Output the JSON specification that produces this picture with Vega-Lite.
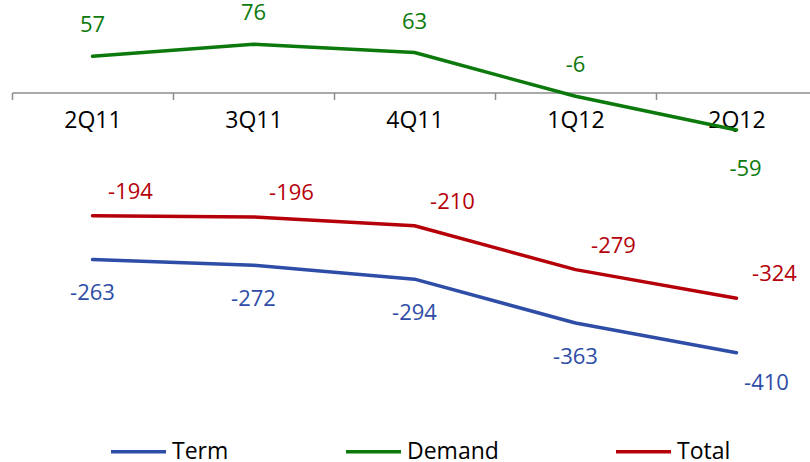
{
  "$schema": "https://vega.github.io/schema/vega-lite/v6.json",
  "width": 798,
  "height": 375,
  "autosize": {"type": "none"},
  "padding": {"left": 12, "top": 0, "right": 0, "bottom": 87},
  "background": "white",
  "config": {"view": {"stroke": null}, "font": "Open Sans"},
  "data": {
    "values": [
      {"quarter": "2Q11", "series": "Term", "value": -263},
      {"quarter": "3Q11", "series": "Term", "value": -272},
      {"quarter": "4Q11", "series": "Term", "value": -294},
      {"quarter": "1Q12", "series": "Term", "value": -363},
      {"quarter": "2Q12", "series": "Term", "value": -410},
      {"quarter": "2Q11", "series": "Demand", "value": 57},
      {"quarter": "3Q11", "series": "Demand", "value": 76},
      {"quarter": "4Q11", "series": "Demand", "value": 63},
      {"quarter": "1Q12", "series": "Demand", "value": -6},
      {"quarter": "2Q12", "series": "Demand", "value": -59},
      {"quarter": "2Q11", "series": "Total", "value": -194},
      {"quarter": "3Q11", "series": "Total", "value": -196},
      {"quarter": "4Q11", "series": "Total", "value": -210},
      {"quarter": "1Q12", "series": "Total", "value": -279},
      {"quarter": "2Q12", "series": "Total", "value": -324}
    ]
  },
  "transform": [{"calculate": "'' + datum.value", "as": "label"}],
  "encoding": {
    "x": {
      "field": "quarter",
      "type": "nominal",
      "sort": null,
      "bandPosition": 0.5,
      "scale": {"type": "band", "paddingInner": 0, "paddingOuter": 0, "range": [0, 805]},
      "axis": {
        "title": null,
        "orient": "bottom",
        "offset": -282.5,
        "labelAngle": 0,
        "labelFont": "Open Sans",
        "labelFontSize": 23,
        "labelColor": "#000000",
        "labelPadding": 10,
        "domainColor": "#8c8c8c",
        "domainWidth": 1.5,
        "tickColor": "#8c8c8c",
        "tickWidth": 1.5,
        "tickSize": 7,
        "tickBand": "extent"
      }
    },
    "y": {
      "field": "value",
      "type": "quantitative",
      "scale": {"domain": [-445, 145.7], "nice": false, "zero": false},
      "axis": null
    },
    "color": {
      "field": "series",
      "type": "nominal",
      "scale": {"domain": ["Term", "Demand", "Total"], "range": ["#2E4DA6", "#0B790B", "#B5000A"]},
      "legend": {
        "title": null,
        "orient": "none",
        "direction": "horizontal",
        "legendX": 97,
        "legendY": 422,
        "symbolType": "stroke",
        "symbolSize": 3025,
        "symbolStrokeWidth": 3.5,
        "labelFont": "Open Sans",
        "labelFontSize": 23,
        "labelColor": "#000000",
        "labelOffset": 4,
        "columnPadding": 110
      }
    }
  },
  "layer": [
    {"mark": {"type": "line", "strokeWidth": 3.5, "interpolate": "linear", "strokeJoin": "round", "strokeCap": "round"}},
    {
      "transform": [{"filter": "datum.series == 'Term' && datum.quarter != '2Q12'"}],
      "mark": {"type": "text", "fontSize": 22, "dy": 34, "baseline": "middle"},
      "encoding": {"text": {"field": "label", "type": "nominal"}}
    },
    {
      "transform": [{"filter": "datum.series == 'Term' && datum.quarter == '2Q12'"}],
      "mark": {"type": "text", "fontSize": 22, "dy": 30, "dx": 30, "baseline": "middle"},
      "encoding": {"text": {"field": "label", "type": "nominal"}}
    },
    {
      "transform": [{"filter": "datum.series == 'Demand' && datum.value > -50"}],
      "mark": {"type": "text", "fontSize": 22, "dy": -31, "baseline": "middle"},
      "encoding": {"text": {"field": "label", "type": "nominal"}}
    },
    {
      "transform": [{"filter": "datum.series == 'Demand' && datum.value <= -50"}],
      "mark": {"type": "text", "fontSize": 22, "dy": 39, "dx": 9, "baseline": "middle"},
      "encoding": {"text": {"field": "label", "type": "nominal"}}
    },
    {
      "transform": [{"filter": "datum.series == 'Total'"}],
      "mark": {"type": "text", "fontSize": 22, "dy": -24, "dx": 38, "baseline": "middle"},
      "encoding": {"text": {"field": "label", "type": "nominal"}}
    }
  ]
}
